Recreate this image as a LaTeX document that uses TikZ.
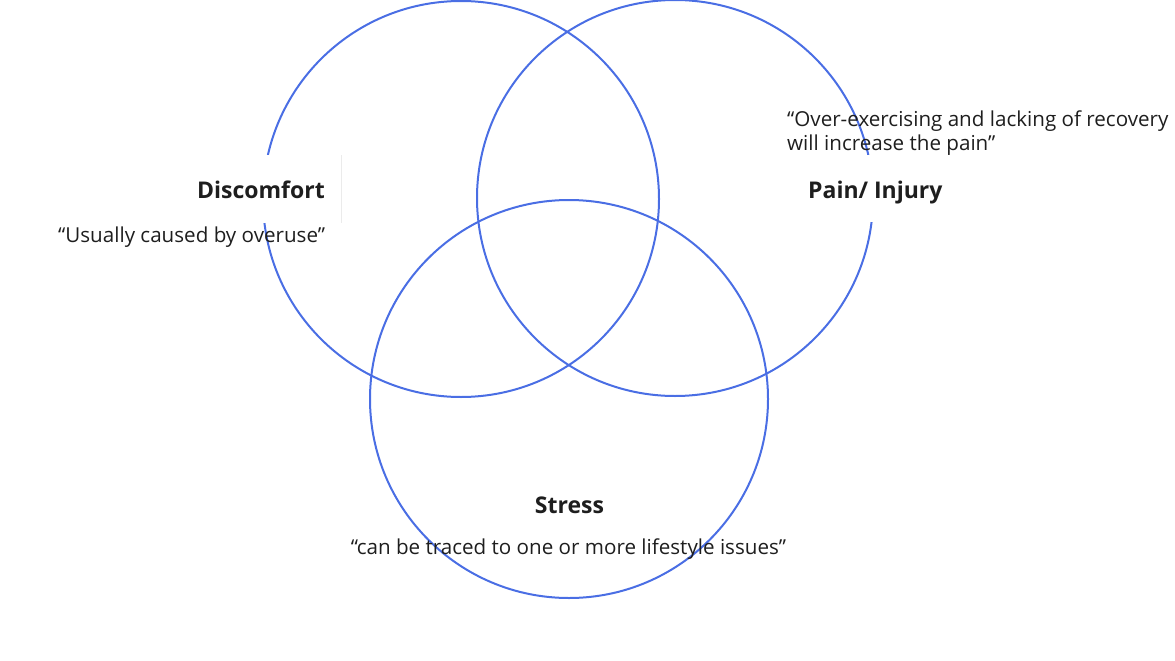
\documentclass[tikz,border=0pt]{standalone}
\usepackage{fontspec}
\setmainfont{Open Sans}
\definecolor{ring}{HTML}{4A6EE4}
\definecolor{ink}{HTML}{1E1E1E}
\definecolor{edge}{HTML}{EBEBEB}
\begin{document}
\begin{tikzpicture}[x=1pt,y=-1pt,
  ringline/.style={draw=ring,line width=2pt},
  cover/.style={fill=white,draw=none},
  title/.style={text=ink,font=\fontsize{23}{27}\selectfont\bfseries,inner sep=0pt},
  quote/.style={text=ink,font=\fontsize{20.6}{25}\selectfont,inner sep=0pt}]
\useasboundingbox (0,0) rectangle (1175,661);
% circles
\draw[ringline] (461,199) circle (198);
\draw[ringline] (675,198) circle (198);
\draw[ringline] (569,399) circle (199);
% cover boxes behind titles
\fill[cover] (180,155) rectangle (341,223);
\draw[edge,line width=0.8pt] (341.5,155) -- (341.5,223);
\fill[cover] (787,155) rectangle (1175,222);
% texts
\node[title,anchor=base east] (discomfort) at (325,198) {Discomfort};
\node[quote,anchor=base west] (q1) at (58,242) {“Usually caused by overuse”};
\node[title,anchor=base west] (pain) at (808,198) {Pain/ Injury};
\node[quote,anchor=base west] (q2a) at (787,126) {“Over-exercising and lacking of recovery};
\node[quote,anchor=base west] (q2b) at (787,150) {will increase the pain”};
\node[title,anchor=base] (stress) at (569.5,513) {Stress};
\node[quote,anchor=base] (q3) at (568.5,554) {“can be traced to one or more lifestyle issues”};
\end{tikzpicture}
\end{document}
